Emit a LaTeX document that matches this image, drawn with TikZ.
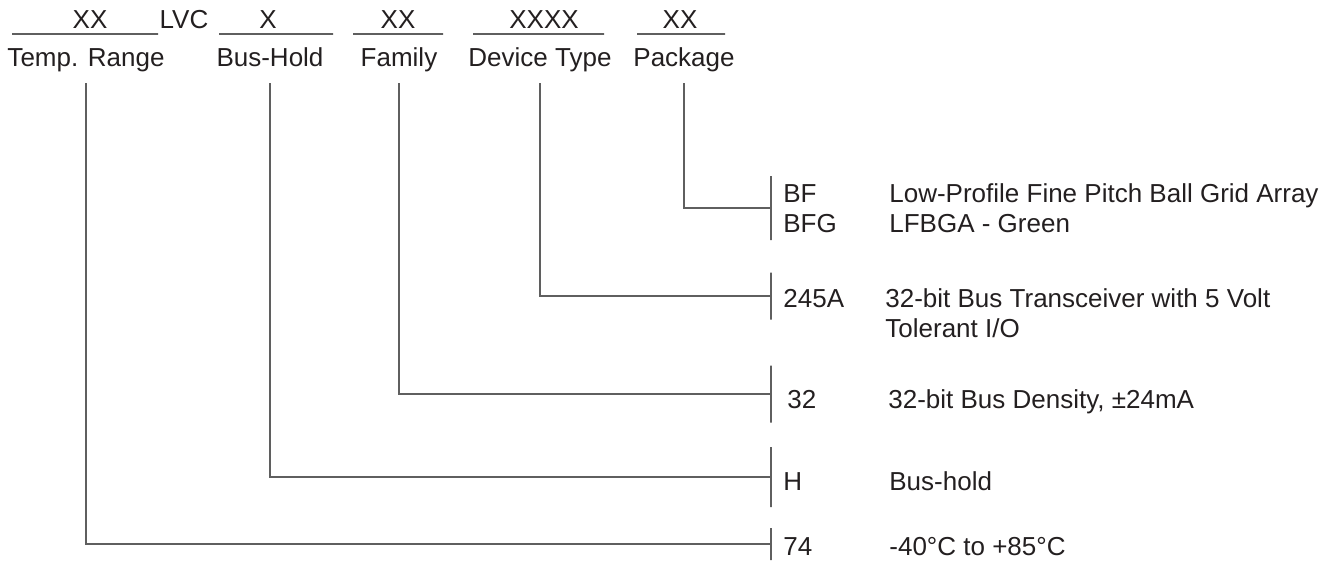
\documentclass[tikz,border=0pt]{standalone}
\usepackage{fontspec}
\setmainfont{Liberation Sans}
\definecolor{inkblack}{RGB}{35,31,32}
\definecolor{linegray}{RGB}{95,95,95}
\begin{document}
\begin{tikzpicture}[x=0.5pt, y=-0.5pt, every node/.style={font=\fontsize{13}{15}\selectfont, text=inkblack}]

    % Styles
    \tikzstyle{field} = [anchor=base, inner sep=0pt]
    \tikzstyle{uline} = [draw=linegray, line width=0.6pt, inner sep=0pt, minimum height=0pt]
    \tikzstyle{caption} = [anchor=base, inner sep=0pt, text depth=0.22em, outer ysep=6.5pt]
    \tikzstyle{tick} = [draw=linegray, line width=0.6pt, inner sep=0pt, minimum width=0pt]
    \tikzstyle{code} = [anchor=base west, inner sep=0pt]
    \tikzstyle{desc} = [anchor=base west, inner sep=0pt]
    \tikzstyle{conn} = [draw=linegray, line width=0.6pt]

    \useasboundingbox (0,0) rectangle (1335,563);

    % Column X positions (pixels of the reference)
    \def\coltemp{86}
    \def\colhold{270}
    \def\colfam{399}
    \def\coldev{540}
    \def\colpkg{684}
    \def\coltick{771}
    \def\colcode{783}
    \def\coldesc{889}

    % Part number fields
    \node[field] (ftemp) at (90, 28) {XX};
    \node[field] (flvc)  at (184,28) {LVC};
    \node[field] (fhold) at (268,28) {X};
    \node[field] (ffam)  at (398,28) {XX};
    \node[field] (fdev)  at (544,28) {XXXX};
    \node[field] (fpkg)  at (680,28) {XX};

    \node[uline, minimum width=73pt]   (utemp) at (85, 34) {};
    \node[uline, minimum width=57pt]   (uhold) at (276,34) {};
    \node[uline, minimum width=45pt]   (ufam)  at (398,34) {};
    \node[uline, minimum width=65.5pt] (udev)  at (538.5,34) {};
    \node[uline, minimum width=44pt]   (upkg)  at (681,34) {};

    % Field captions
    \node[caption] (temp) at (\coltemp,66) {Temp. Range};
    \node[caption] (hold) at (\colhold,66) {Bus-Hold};
    \node[caption] (fam)  at (\colfam, 66) {Family};
    \node[caption] (dev)  at (\coldev, 66) {Device Type};
    \node[caption] (pkg)  at (\colpkg, 66) {Package};

    % Brackets on the right
    \node[tick, minimum height=32pt]   (tpkg) at (\coltick,208) {};
    \node[tick, minimum height=23.5pt] (tdev) at (\coltick,296) {};
    \node[tick, minimum height=28.5pt] (tfam) at (\coltick,394) {};
    \node[tick, minimum height=30pt]   (thold) at (\coltick,477) {};
    \node[tick, minimum height=16pt]   (ttemp) at (\coltick,544) {};

    % Connectors
    \draw[conn] (pkg.south)  |- (tpkg);
    \draw[conn] (dev.south)  |- (tdev);
    \draw[conn] (fam.south)  |- (tfam);
    \draw[conn] (hold.south) |- (thold);
    \draw[conn] (temp.south) |- (ttemp);

    % Codes and meanings
    \node[code] (cbf)   at (\colcode,202) {BF};
    \node[code] (cbfg)  at (\colcode,232) {BFG};
    \node[code] (c245)  at (\colcode,307) {245A};
    \node[code] (c32)   at (787,408) {32};
    \node[code] (ch)    at (\colcode,490) {H};
    \node[code] (c74)   at (\colcode,555) {74};

    \node[desc] (dbf)   at (\coldesc,202) {Low-Profile Fine Pitch Ball Grid Array};
    \node[desc] (dbfg)  at (\coldesc,232) {LFBGA - Green};
    \node[desc] (d245)  at (885,307) {32-bit Bus Transceiver with 5 Volt};
    \node[desc] (d245b) at (885,337) {Tolerant I/O};
    \node[desc] (d32)   at (888,408) {32-bit Bus Density, ±24mA};
    \node[desc] (dh)    at (\coldesc,490) {Bus-hold};
    \node[desc] (d74)   at (\coldesc,555) {-40°C to +85°C};

\end{tikzpicture}
\end{document}
